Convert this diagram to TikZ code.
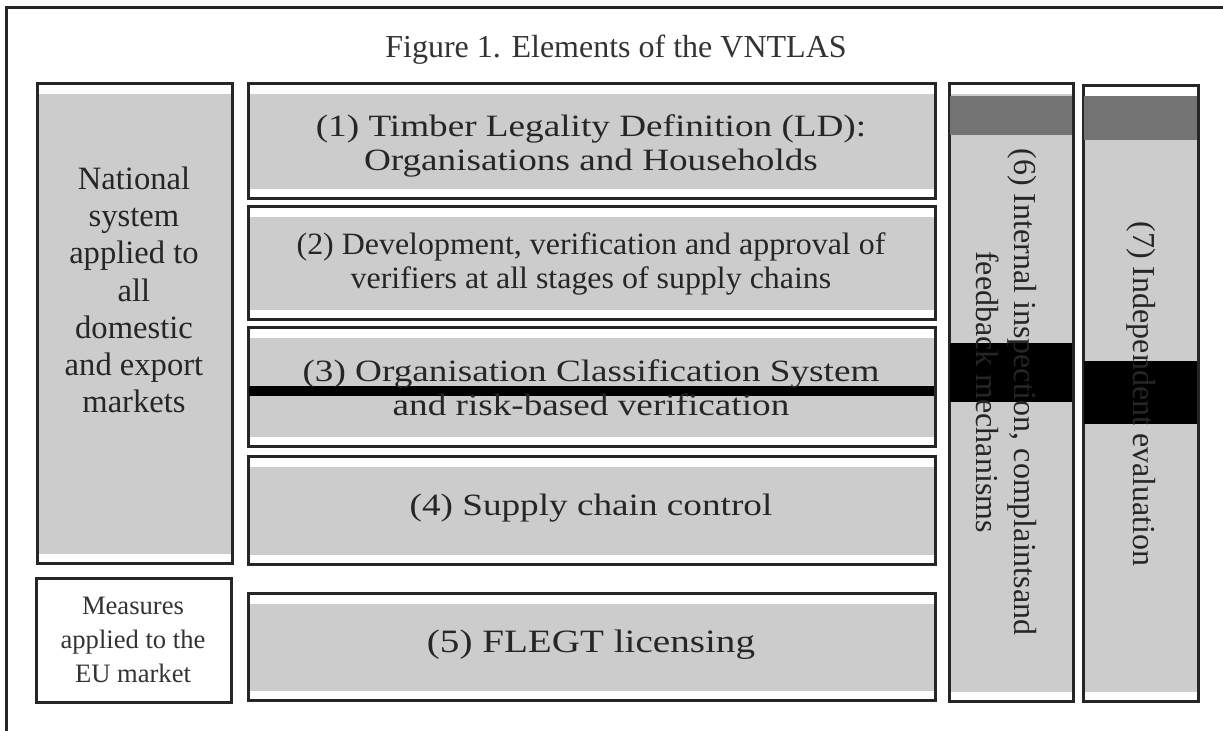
\documentclass[tikz,border=0pt]{standalone}
\usepackage{fontspec}
\setmainfont{Liberation Serif}
\newfontfamily\widefont[FakeStretch=1.2]{Liberation Serif}
\newfontfamily\slimfont[FakeStretch=1.03]{Liberation Serif}
\begin{document}
\begin{tikzpicture}[x=0.5pt,y=-0.5pt,
  box/.style={draw=black!85,line width=1.5pt},
  grain/.style={path picture={\fill[black!20] ([yshift=-5pt]path picture bounding box.north west) rectangle ([yshift=5pt]path picture bounding box.south east);}},
  boxtext/.style={font=\widefont\fontsize{15.5}{17}\selectfont,text=black!85,align=center},
  nattext/.style={font=\fontsize{16.3}{18.6}\selectfont,text=black!85,align=center},
  eutext/.style={font=\fontsize{13.3}{17}\selectfont,text=black!80,align=center},
  sidetext/.style={font=\fontsize{16}{19}\selectfont,text=black!85,align=center,rotate=-90}]
  \clip (0,0) rectangle (1223,731);
  \useasboundingbox (0,0) rectangle (1223,731);
  %rammen
  	\draw[box] (6,8) rectangle (1240,750);
  	\node[font=\fontsize{16}{19}\selectfont,text=black!80] (title) at (616,50) {Figure 1. Elements of the VNTLAS};

  %venstre kolonne
  	\draw[box,grain] (37,84) rectangle (232,564);
  	\draw[box] (36,579) rectangle (231,703);

  %midterste kolonne
  	\draw[box,grain] (248,84) rectangle (935,199);
  	\draw[box,grain] (248,207) rectangle (935,320);
  	\draw[box,grain] (248,328) rectangle (935,447);
  	\draw[box,grain] (248,457) rectangle (935,565);
  	\draw[box,grain] (248,594) rectangle (935,701);

  %lodrette kasser
  	\draw[box,grain] (949,84) rectangle (1073,702);
  	\draw[box,grain] (1083,86) rectangle (1198,702);

  %mørke bånd
  	\fill[black!55] (950,96) rectangle (1072,135);
  	\fill[black!55] (1084,96) rectangle (1197,140);
  	\fill[black] (249,386) rectangle (934,396);
  	\fill[black] (950,343) rectangle (1072,402);
  	\fill[black] (1084,361) rectangle (1197,424);

  %tekster
  	\node[nattext] (natsys) at (134,290) {National\\system\\applied to\\all\\domestic\\and export\\markets};
  	\node[eutext] (eumeas) at (133,640) {Measures\\applied to the\\EU market};
  	\node[boxtext] (ld) at (591,146) {(1) Timber Legality Definition (LD):\\Organisations and Households};
  	\node[boxtext,font=\slimfont\fontsize{15.5}{17}\selectfont] (verif) at (591,264) {(2) Development, verification and approval of\\verifiers at all stages of supply chains};
  	\node[boxtext] (ocs) at (591,388) {(3) Organisation Classification System\\and risk-based verification};
  	\node[boxtext] (scc) at (591,508) {(4) Supply chain control};
  	\node[boxtext,font=\widefont\fontsize{16.3}{17}\selectfont] (flegt) at (591,645) {(5) FLEGT licensing};
  	\node[sidetext] (inspect) at (1006,392) {(6) Internal inspection, complaintsand\\feedback mechanisms};
  	\node[sidetext] (indep) at (1141,394) {(7) Independent evaluation};
\end{tikzpicture}
\end{document}
